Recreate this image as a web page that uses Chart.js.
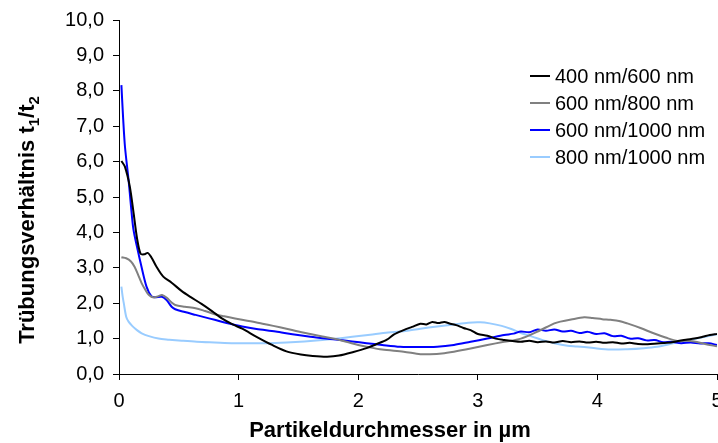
<!DOCTYPE html>
<html>
<head>
<meta charset="utf-8">
<script src="https://cdn.jsdelivr.net/npm/chart.js@4/dist/chart.umd.min.js"></script>
<style>
  html, body { margin: 0; padding: 0; background: #fff; }
  #wrap { width: 718px; height: 443px; }
</style>
</head>
<body>
<div id="wrap"><canvas id="chart" width="718" height="443"></canvas></div>
<script>
// Trübungsverhältnis über Partikeldurchmesser, vier Wellenlängenpaare
const xTicks = [0, 1, 2, 3, 4, 5];
const yTicks = [0, 1, 2, 3, 4, 5, 6, 7, 8, 9, 10];

const seriesNames = ['400 nm/600 nm', '600 nm/800 nm', '600 nm/1000 nm', '800 nm/1000 nm'];
const seriesColors = ['#000000', '#808080', '#0000ff', '#99ccff'];

const x400600 = [0.02, 0.05, 0.09, 0.12, 0.15, 0.18, 0.21, 0.24, 0.27, 0.31, 0.37, 0.44, 0.525, 0.6, 0.69, 0.78, 0.86, 0.95, 1.03, 1.15, 1.28, 1.4, 1.52, 1.62, 1.74, 1.84, 1.96, 2.07, 2.15, 2.24, 2.3, 2.38, 2.45, 2.52, 2.57, 2.62, 2.67, 2.72, 2.77, 2.82, 2.88, 2.94, 3.0, 3.08, 3.15, 3.22, 3.29, 3.36, 3.43, 3.5, 3.57, 3.64, 3.71, 3.78, 3.85, 3.92, 3.99, 4.06, 4.13, 4.2, 4.27, 4.34, 4.42, 4.5, 4.58, 4.66, 4.74, 4.81, 4.88, 4.94, 5.0];
const y400600 = [6.02, 5.85, 5.3, 4.6, 3.85, 3.4, 3.38, 3.42, 3.3, 3.05, 2.75, 2.58, 2.34, 2.17, 1.98, 1.77, 1.57, 1.4, 1.28, 1.05, 0.82, 0.64, 0.55, 0.51, 0.49, 0.52, 0.62, 0.73, 0.84, 0.97, 1.12, 1.24, 1.33, 1.42, 1.4, 1.47, 1.44, 1.47, 1.42, 1.38, 1.3, 1.24, 1.13, 1.08, 1.0, 0.96, 0.93, 0.91, 0.94, 0.9, 0.92, 0.89, 0.93, 0.9, 0.92, 0.89, 0.91, 0.88, 0.9, 0.86, 0.88, 0.85, 0.84, 0.86, 0.88, 0.92, 0.97, 1.0, 1.05, 1.1, 1.13];

const x600800 = [0.02, 0.06, 0.1, 0.13, 0.16, 0.19, 0.22, 0.25, 0.29, 0.33, 0.36, 0.4, 0.44, 0.47, 0.55, 0.64, 0.72, 0.8, 0.88, 0.97, 1.1, 1.2, 1.29, 1.4, 1.5, 1.6, 1.7, 1.79, 1.9, 2.0, 2.07, 2.2, 2.38, 2.52, 2.6, 2.7, 2.8, 2.94, 3.08, 3.22, 3.36, 3.5, 3.64, 3.69, 3.78, 3.89, 3.96, 4.04, 4.11, 4.18, 4.25, 4.36, 4.47, 4.57, 4.67, 4.74, 4.81, 4.9, 5.0];
const y600800 = [3.3, 3.27, 3.18, 3.03, 2.8, 2.56, 2.38, 2.23, 2.16, 2.2, 2.23, 2.15, 2.02, 1.95, 1.9, 1.86, 1.78, 1.69, 1.63, 1.57, 1.49, 1.42, 1.36, 1.28, 1.2, 1.13, 1.06, 1.0, 0.91, 0.82, 0.77, 0.69, 0.63, 0.56, 0.56, 0.58, 0.63, 0.72, 0.82, 0.91, 1.0, 1.2, 1.43, 1.48, 1.54, 1.6, 1.58, 1.55, 1.53, 1.5, 1.43, 1.3, 1.15, 1.03, 0.93, 0.94, 0.92, 0.85, 0.78];

const x6001000 = [0.02, 0.035, 0.05, 0.08, 0.1, 0.12, 0.15, 0.19, 0.23, 0.27, 0.3, 0.36, 0.4, 0.44, 0.47, 0.55, 0.64, 0.72, 0.8, 0.9, 1.03, 1.15, 1.31, 1.45, 1.6, 1.79, 1.95, 2.07, 2.2, 2.35, 2.5, 2.66, 2.8, 2.94, 3.08, 3.22, 3.3, 3.36, 3.43, 3.5, 3.57, 3.64, 3.71, 3.78, 3.85, 3.92, 3.99, 4.06, 4.13, 4.2, 4.27, 4.34, 4.41, 4.48, 4.55, 4.62, 4.7, 4.78, 4.86, 4.93, 5.0];
const y6001000 = [8.16, 7.2, 6.42, 5.48, 4.75, 4.1, 3.6, 3.0, 2.47, 2.2, 2.17, 2.18, 2.08, 1.9, 1.83, 1.75, 1.67, 1.6, 1.53, 1.44, 1.34, 1.27, 1.2, 1.12, 1.05, 0.98, 0.92, 0.87, 0.82, 0.77, 0.76, 0.77, 0.82, 0.91, 1.0, 1.1, 1.14, 1.2, 1.18, 1.26, 1.22, 1.26, 1.2, 1.22, 1.16, 1.19, 1.13, 1.15, 1.07, 1.08, 1.0, 1.01, 0.95, 0.96, 0.9, 0.91, 0.87, 0.89, 0.86, 0.87, 0.82];

const x8001000 = [0.02, 0.03, 0.04, 0.06, 0.08, 0.11, 0.15, 0.19, 0.25, 0.33, 0.42, 0.525, 0.65, 0.8, 0.96, 1.1, 1.25, 1.4, 1.55, 1.7, 1.79, 1.95, 2.1, 2.25, 2.38, 2.52, 2.66, 2.8, 2.92, 3.02, 3.1, 3.2, 3.28, 3.36, 3.46, 3.55, 3.64, 3.75, 3.83, 3.95, 4.11, 4.25, 4.39, 4.5, 4.6, 4.67, 4.8, 4.9, 5.0];
const y8001000 = [2.47, 2.2, 2.0, 1.62, 1.48, 1.36, 1.24, 1.15, 1.07, 1.0, 0.97, 0.94, 0.91, 0.89, 0.87, 0.87, 0.87, 0.89, 0.92, 0.96, 0.99, 1.05, 1.11, 1.17, 1.21, 1.28, 1.34, 1.4, 1.45, 1.46, 1.43, 1.36, 1.27, 1.16, 1.05, 0.95, 0.87, 0.8, 0.78, 0.74, 0.69, 0.7, 0.73, 0.77, 0.84, 0.9, 0.98, 1.05, 1.12];

const seriesX = [x400600, x600800, x6001000, x8001000];
const seriesY = [y400600, y600800, y6001000, y8001000];

const FONT = "'Liberation Sans', Arial, sans-serif";

const datasets = seriesNames.map((name, i) => ({
  label: name,
  data: seriesX[i].map((x, j) => ({ x: x, y: seriesY[i][j] })),
  borderColor: seriesColors[i],
  backgroundColor: seriesColors[i],
  borderWidth: 2,
  pointRadius: 0,
  tension: 0.3,
  fill: false
}));

// legend drawn inside the plot, top right
const innerLegend = {
  id: 'innerLegend',
  afterDraw(chart) {
    const ctx = chart.ctx;
    ctx.save();
    ctx.font = '20px ' + FONT;
    ctx.textBaseline = 'middle';
    ctx.fillStyle = '#000';
    seriesNames.forEach((name, i) => {
      const y = 76 + i * 27;
      ctx.strokeStyle = seriesColors[i];
      ctx.lineWidth = 2;
      ctx.beginPath();
      ctx.moveTo(530, y);
      ctx.lineTo(550, y);
      ctx.stroke();
      ctx.fillText(name, 555, y + 1);
    });
    ctx.restore();
  }
};

// axis titles: x title slightly left of centre, y title rotated with subscripts t1/t2
const axisTitles = {
  id: 'axisTitles',
  afterDraw(chart) {
    const ctx = chart.ctx;
    const big = 'bold 22px ' + FONT;
    const small = 'bold 15px ' + FONT;
    ctx.save();
    ctx.fillStyle = '#000';

    ctx.font = big;
    ctx.textAlign = 'center';
    ctx.textBaseline = 'middle';
    ctx.fillText('Partikeldurchmesser in µm', 390, 431);

    const parts = [
      ['Trübungsverhältnis t', big, 0],
      ['1', small, 5],
      ['/t', big, 0],
      ['2', small, 5]
    ];
    let total = 0;
    parts.forEach(p => { ctx.font = p[1]; total += ctx.measureText(p[0]).width; });
    ctx.translate(26, 220);
    ctx.rotate(-Math.PI / 2);
    ctx.textAlign = 'left';
    ctx.textBaseline = 'alphabetic';
    let x = -total / 2;
    parts.forEach(p => {
      ctx.font = p[1];
      ctx.fillText(p[0], x, 8 + p[2]);
      x += ctx.measureText(p[0]).width;
    });
    ctx.restore();
  }
};

new Chart(document.getElementById('chart'), {
  type: 'line',
  data: { datasets: datasets },
  plugins: [innerLegend, axisTitles],
  options: {
    responsive: false,
    animation: false,
    layout: { padding: { top: 20, right: 1, left: 0, bottom: 0 } },
    plugins: {
      legend: { display: false },
      tooltip: { enabled: false }
    },
    scales: {
      x: {
        type: 'linear',
        min: 0,
        max: 5,
        afterBuildTicks(scale) { scale.ticks = xTicks.map(v => ({ value: v })); },
        afterFit(scale) { scale.height = 69; scale.paddingLeft = 0; scale.paddingRight = 0; },
        grid: { drawOnChartArea: false, drawTicks: true, tickLength: 6, color: '#000' },
        border: { color: '#000', width: 1 },
        ticks: { color: '#000', font: { family: FONT, size: 20 }, padding: 9, maxRotation: 0 }
      },
      y: {
        min: 0,
        max: 10,
        afterBuildTicks(scale) { scale.ticks = yTicks.map(v => ({ value: v })); },
        afterFit(scale) { scale.width = 119; scale.paddingTop = 0; scale.paddingBottom = 0; },
        grid: { drawOnChartArea: false, drawTicks: true, tickLength: 6, color: '#000' },
        border: { color: '#000', width: 1 },
        ticks: {
          color: '#000',
          font: { family: FONT, size: 20 },
          padding: 9,
          callback: v => v.toFixed(1).replace('.', ',')
        }
      }
    }
  }
});
</script>
</body>
</html>
